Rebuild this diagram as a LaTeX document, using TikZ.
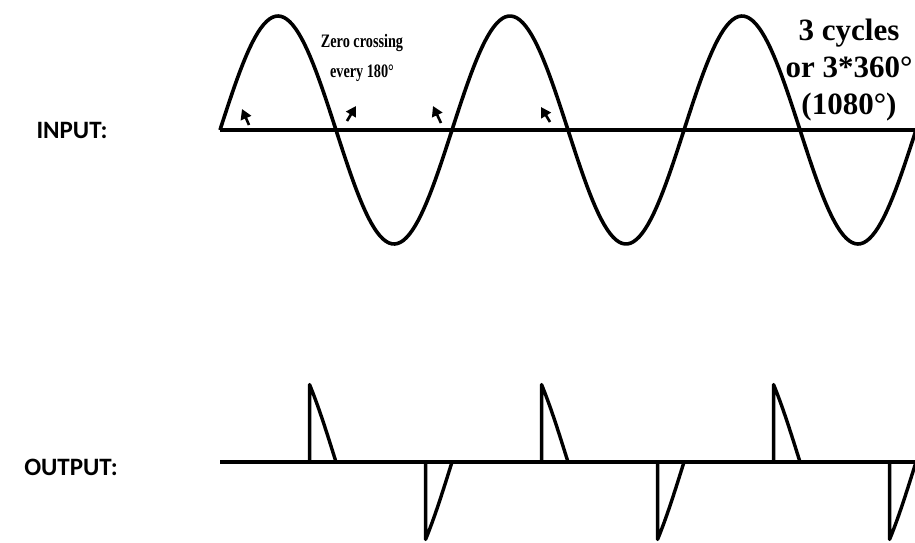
\documentclass[tikz,border=0pt]{standalone}
\usepackage{fontspec}
\usetikzlibrary{arrows.meta}
\newfontfamily\labelfont{Carlito}
\newfontfamily\notefont{Liberation Serif}

\tikzset{
    wave/.style={line width=3.6pt, line join=round},
    axisline/.style={line width=4pt},
    pulse/.style={line width=3.4pt, line join=round},
    tickarrow/.style={line width=2.6pt, -{Triangle[length=10pt,width=11pt]}},
    sidelabel/.style={font=\labelfont\bfseries\fontsize{25}{30}\selectfont},
}

\begin{document}
\begin{tikzpicture}[x=1pt, y=-1pt]
    \useasboundingbox (0,0) rectangle (915,542);
    % input: three cycles
    \coordinate (inL) at (220,130);
    \coordinate (inR) at (916,130);
    \draw[axisline] (inL) -- (inR);
    \draw[wave] plot[domain=0:1080, samples=240] ({220+\x/180*116}, {130-114*sin(\x)});
    \draw[tickarrow] (249,125) -- (242,109);
    \draw[tickarrow] (347,121) -- (356,106);
    \draw[tickarrow] (441,123) -- (433,106);
    \draw[tickarrow] (550,122) -- (541,107);
    \node[align=center, font=\notefont\bfseries\fontsize{19}{30}\selectfont, xscale=0.75, transform shape] (zc) at (362,58) {Zero crossing\\every 180\textdegree};
    \node[align=center, font=\notefont\bfseries\fontsize{31}{37}\selectfont] (cyc) at (849,70) {3 cycles\\or 3*360\textdegree\\(1080\textdegree)};
    \node[sidelabel] (in) at (72,130) {INPUT:};
    % output: chopped half cycles
    \coordinate (outL) at (220,462);
    \coordinate (outR) at (916,462);
    \draw[axisline] (outL) -- (outR);
    \foreach \k in {0,1,2} {
        \draw[pulse] ({220+(139+360*\k)/180*116},462) -- plot[domain={139+360*\k}:{180+360*\k}, samples=20] ({220+\x/180*116}, {462-118*sin(\x)});
        \draw[pulse] ({220+(319+360*\k)/180*116},462) -- plot[domain={319+360*\k}:{360+360*\k}, samples=20] ({220+\x/180*116}, {462-118*sin(\x)});
    }
    \node[sidelabel] (out) at (71,467) {OUTPUT:};
\end{tikzpicture}
\end{document}
